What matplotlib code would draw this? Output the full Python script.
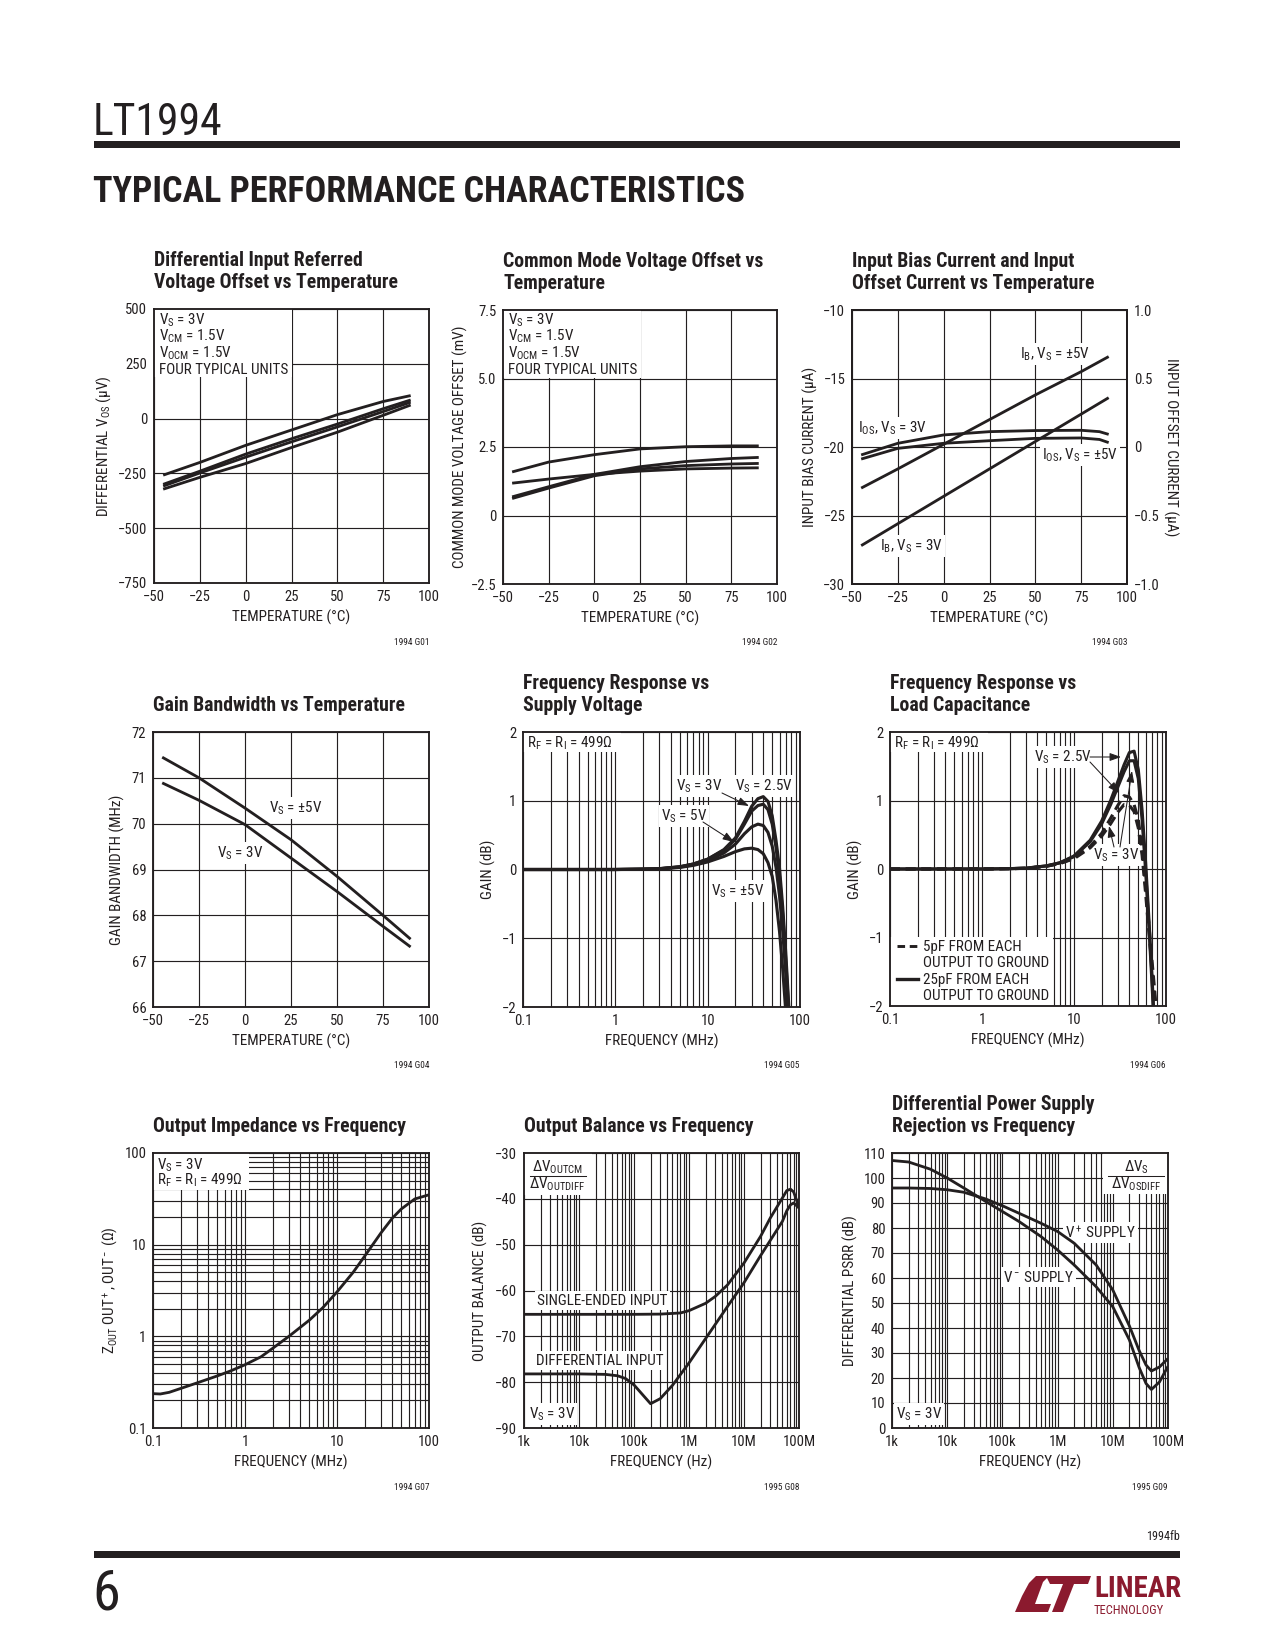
import matplotlib
matplotlib.use('Agg')
import matplotlib.pyplot as plt
from matplotlib import font_manager as fm
from matplotlib.font_manager import FontProperties
from matplotlib.textpath import TextPath
from matplotlib.patches import Rectangle, Polygon
from matplotlib.lines import Line2D
from matplotlib.ticker import LogLocator, NullFormatter

# ---------------------------------------------------------------- data
# G01 differential input referred offset vs temperature (uV)
temp_g01 = [-45, -25, 0, 25, 50, 75, 90]
vos_unit1 = [-258, -200, -122, -52, 18, 78, 105]
vos_unit2 = [-300, -240, -162, -92, -25, 45, 85]
vos_unit3 = [-308, -248, -176, -106, -38, 32, 75]
vos_unit4 = [-322, -268, -205, -132, -62, 15, 62]

# G02 common mode offset vs temperature (mV)
temp_g02 = [-45, -25, 0, 25, 50, 75, 90]
vcm_unit1 = [1.59, 1.95, 2.22, 2.43, 2.51, 2.54, 2.54]
vcm_unit2 = [1.18, 1.33, 1.50, 1.62, 1.70, 1.73, 1.74]
vcm_unit3 = [0.68, 1.05, 1.50, 1.78, 1.97, 2.08, 2.12]
vcm_unit4 = [0.62, 1.00, 1.45, 1.70, 1.82, 1.88, 1.90]

# G03 input bias / offset current vs temperature (uA)
temp_g03 = [-45, -25, 0, 25, 50, 75, 90]
ib_5v = [-23.0, -21.6, -19.8, -18.0, -16.2, -14.5, -13.4]
ib_3v = [-27.2, -25.6, -23.6, -21.6, -19.6, -17.6, -16.4]
temp_ios = [-45, -25, 0, 25, 50, 75, 85, 90]
ios_3v = [-0.058, 0.027, 0.088, 0.112, 0.120, 0.122, 0.112, 0.092]
ios_5v = [-0.088, -0.010, 0.027, 0.046, 0.063, 0.066, 0.055, 0.032]

# G04 gain bandwidth vs temperature (MHz)
temp_g04 = [-45, -25, 0, 25, 50, 75, 90]
gbw_pm5v = [71.45, 71.00, 70.34, 69.65, 68.85, 68.00, 67.48]
gbw_3v = [70.89, 70.51, 69.98, 69.25, 68.52, 67.76, 67.31]

# G05 frequency response vs supply voltage (MHz, dB)
freq_g05 = [0.1, 1, 2, 3, 5, 7, 10, 15, 20, 25, 30, 35, 40, 45, 50, 55, 60, 65, 70, 75, 80]
gain_2v5 = [0, 0, 0.005, 0.012, 0.04, 0.08, 0.15, 0.29, 0.46, 0.70, 0.92, 1.03, 1.06, 0.99, 0.78, 0.42, 0.02, -0.55, -1.2, -1.9, -2.6]
gain_3v = [0, 0, 0.005, 0.012, 0.04, 0.08, 0.15, 0.28, 0.44, 0.66, 0.85, 0.93, 0.95, 0.87, 0.66, 0.32, -0.10, -0.65, -1.3, -2.0, -2.7]
gain_5v = [0, 0, 0.005, 0.010, 0.035, 0.07, 0.13, 0.24, 0.37, 0.52, 0.62, 0.66, 0.64, 0.54, 0.34, 0.03, -0.38, -0.9, -1.5, -2.15, -2.8]
gain_pm5v = [0, 0, 0.003, 0.008, 0.03, 0.06, 0.11, 0.19, 0.26, 0.30, 0.31, 0.29, 0.23, 0.10, -0.10, -0.45, -0.9, -1.45, -2.05, -2.65, -3.3]

# G06 frequency response vs load capacitance (MHz, dB)
freq_g06 = [0.1, 1, 2, 3, 5, 7, 10, 15, 20, 25, 30, 35, 40, 45, 50, 55, 60, 65, 70, 75, 80, 85]
c25_2v5 = [0, 0, 0.005, 0.012, 0.045, 0.09, 0.19, 0.42, 0.70, 1.00, 1.28, 1.52, 1.70, 1.72, 1.45, 0.85, 0.10, -0.70, -1.50, -2.30, -3.10, -3.8]
c25_3v = [0, 0, 0.005, 0.012, 0.045, 0.09, 0.18, 0.40, 0.66, 0.94, 1.20, 1.42, 1.58, 1.58, 1.32, 0.72, -0.02, -0.80, -1.60, -2.40, -3.20, -3.9]
c5_2v5 = [0, 0, 0.005, 0.010, 0.04, 0.08, 0.16, 0.33, 0.52, 0.74, 0.93, 1.07, 1.05, 0.94, 0.72, 0.30, -0.25, -0.80, -1.30, -1.75, -2.20, -2.70]
c5_3v = [0, 0, 0.005, 0.010, 0.04, 0.08, 0.15, 0.31, 0.48, 0.66, 0.83, 0.94, 0.93, 0.84, 0.60, 0.20, -0.35, -0.90, -1.40, -1.85, -2.30, -2.80]

# G07 output impedance vs frequency (MHz, ohm)
freq_g07 = [0.1, 0.12, 0.15, 0.2, 0.3, 0.5, 0.7, 1, 1.5, 2, 3, 5, 7, 10, 15, 20, 30, 40, 50, 70, 100]
zout = [0.237, 0.235, 0.245, 0.27, 0.31, 0.37, 0.42, 0.49, 0.60, 0.74, 1.0, 1.5, 2.05, 3.05, 5.0, 7.5, 13.4, 19.5, 24.5, 31.5, 35.0]

# G08 output balance vs frequency (Hz, dB)
freq_g08_se = [1e3, 1e4, 1e5, 3e5, 5e5, 7e5, 1e6, 2e6, 3e6, 5e6, 1e7, 2e7, 3e7, 5e7, 6e7, 7e7, 8e7, 1e8]
bal_single = [-65.2, -65.2, -65.2, -65.15, -65.0, -64.9, -64.4, -62.8, -61.3, -58.8, -54.0, -48.2, -44.2, -39.8, -38.2, -37.9, -38.5, -41.8]
freq_g08_diff = [1e3, 1e4, 3e4, 5e4, 7e4, 1e5, 1.5e5, 2e5, 3e5, 5e5, 1e6, 2e6, 5e6, 1e7, 2e7, 5e7, 6e7, 7e7, 8e7, 1e8]
bal_diff = [-78.2, -78.2, -78.3, -78.6, -79.2, -80.6, -83.0, -84.7, -83.6, -80.7, -75.8, -70.5, -63.5, -58.3, -52.4, -44.9, -42.6, -41.3, -40.9, -42.0]

# G09 differential PSRR vs frequency (Hz, dB)
freq_g09 = [1e3, 2e3, 5e3, 1e4, 2e4, 5e4, 1e5, 2e5, 5e5, 1e6, 2e6, 5e6, 1e7, 2e7, 3e7, 4e7, 5e7, 7e7, 1e8]
psrr_vplus = [96, 96, 95.8, 95.3, 94.3, 91.6, 88.9, 85.9, 81.9, 78.6, 73.9, 65.2, 55.2, 40.8, 31.0, 25.2, 22.8, 24.4, 27.8]
psrr_vminus = [107, 106.4, 103.5, 100, 96, 90.6, 86.6, 82.6, 76.6, 71.2, 65.2, 56.5, 48.5, 35.2, 24.2, 17.8, 15.4, 18.4, 24.7]

temp_ticks = [-50, -25, 0, 25, 50, 75, 100]
mhz_ticks = [0.1, 1, 10, 100]
mhz_labels = ['0.1', '1', '10', '100']
hz_ticks = [1e3, 1e4, 1e5, 1e6, 1e7, 1e8]
hz_labels = ['1k', '10k', '100k', '1M', '10M', '100M']

# ---------------------------------------------------------------- font choice
by_name = {}
for _f in fm.fontManager.ttflist:
    by_name.setdefault(_f.name, []).append(_f)

FONT, STRETCH = None, 'normal'
for _p in ['Liberation Sans Narrow', 'Roboto Condensed', 'Noto Sans Condensed',
           'Open Sans Condensed', 'DejaVu Sans Condensed', 'Arial Narrow', 'Nimbus Sans Narrow']:
    if _p in by_name:
        FONT = _p
        break
if FONT is None:
    for _fam in ['Roboto', 'Noto Sans', 'Open Sans', 'DejaVu Sans', 'Liberation Sans']:
        if any(_e.stretch in ('condensed', 'semi-condensed') for _e in by_name.get(_fam, [])):
            FONT, STRETCH = _fam, 'condensed'
            break
if FONT is None:
    for _n in sorted(by_name):
        if ('Condensed' in _n or 'Narrow' in _n) and 'Mono' not in _n and 'Serif' not in _n \
                and 'Extra' not in _n and 'Ultra' not in _n and 'CJK' not in _n:
            FONT = _n
            break
if FONT is None:
    FONT = 'Liberation Sans' if 'Liberation Sans' in by_name else 'DejaVu Sans'

plt.rcParams['font.family'] = [FONT, 'DejaVu Sans']
plt.rcParams['font.stretch'] = STRETCH
plt.rcParams['mathtext.fontset'] = 'custom'
plt.rcParams['mathtext.rm'] = f'{FONT}:stretch={STRETCH}'
plt.rcParams['mathtext.it'] = f'{FONT}:italic:stretch={STRETCH}'
plt.rcParams['mathtext.bf'] = f'{FONT}:bold:stretch={STRETCH}'
plt.rcParams['mathtext.default'] = 'rm'


def fit_size(sample, target_px, cap, weight='normal'):
    """font size (pt) that makes `sample` about target_px wide at 150 dpi"""
    prop = FontProperties(family=FONT, stretch=STRETCH, weight=weight, size=10)
    w = TextPath((0, 0), sample, size=10, prop=prop).get_extents().width
    if w <= 0:
        return cap
    return min(cap, 10 * (target_px * 72 / 150) / w)


SZ_TITLE = fit_size('Voltage Offset vs Temperature', 243, 10.5, 'bold')
SZ_ANN = fit_size('FOUR TYPICAL UNITS', 128, 7.6)
SZ_LAB = fit_size('TEMPERATURE (°C)', 117, 7.6)
SZ_TICK = SZ_ANN * 0.97
SZ_HEAD = fit_size('TYPICAL PERFORMANCE CHARACTERISTICS', 651, 19, 'bold')
SZ_LT = fit_size('LT1994', 125, 22)
SZ_PAGE = fit_size('6', 32, 27)
SZ_LIN = fit_size('LINEAR', 86, 14, 'bold')
SZ_TECH = fit_size('TECHNOLOGY', 86, 6.0)
SZ_CODE = SZ_ANN * 0.62

W, H = 1275, 1650
INK = '#231f20'
RED = '#8b1a2e'
LW = 1.35

fig = plt.figure(figsize=(W / 150, H / 150), dpi=150)


def fx(x):
    return x / W


def fy(y):
    return 1 - y / H


def ftext(x, y, s, size=6.3, ha='left', va='center', color=INK, **kw):
    fig.text(fx(x), fy(y), s, fontsize=size, ha=ha, va=va, color=color, **kw)


def make_ax(box):
    l, t, r, b = box
    ax = fig.add_axes([fx(l), fy(b), (r - l) / W, (b - t) / H])
    ax.set_axisbelow(True)
    for s in ax.spines.values():
        s.set_linewidth(0.9)
        s.set_color(INK)
        s.set_zorder(4)
    ax.tick_params(which='both', length=0, labelsize=SZ_TICK, pad=3.2, colors=INK)
    ax.grid(True, which='both', color=INK, lw=0.55)
    return ax


def to_ax(box, x, y):
    l, t, r, b = box
    return (x - l) / (r - l), (b - y) / (b - t)


def atext(ax, box, x, y, s, ha='left', bg=True, size=None):
    px, py = to_ax(box, x, y + 4.6)
    kw = {}
    if bg:
        kw['bbox'] = dict(fc='white', ec='none', pad=1.0)
    ax.text(px, py, s, transform=ax.transAxes, ha=ha, va='baseline',
            fontsize=size or SZ_ANN, color=INK, zorder=1.5, **kw)


def cover(ax, box, x0, y0, x1, y1):
    a0 = to_ax(box, x0, y1)
    a1 = to_ax(box, x1, y0)
    ax.add_patch(Rectangle(a0, a1[0] - a0[0], a1[1] - a0[1], transform=ax.transAxes,
                           fc='white', ec='none', zorder=1))


def hline(ax, box, x0, x1, y, **kw):
    p0 = to_ax(box, x0, y)
    p1 = to_ax(box, x1, y)
    ax.add_line(Line2D([p0[0], p1[0]], [p0[1], p1[1]], transform=ax.transAxes,
                       color=INK, zorder=3, **kw))


def arrow(ax, box, x0, y0, x1, y1):
    ax.annotate('', xy=to_ax(box, x1, y1), xytext=to_ax(box, x0, y0),
                xycoords='axes fraction', textcoords='axes fraction',
                arrowprops=dict(arrowstyle='-|>,head_length=0.45,head_width=0.16',
                                color=INK, lw=0.5, shrinkA=0, shrinkB=0), zorder=3)


def decorate(box, titles, xlabel, ylabel, ylab_x, code):
    l, t, r, b = box
    n = len(titles)
    for i, line in enumerate(titles):
        ftext(l, t - 21 - 22 * (n - 1 - i), line, size=SZ_TITLE, va='baseline', weight='bold')
    ftext((l + r) / 2, b + 34, xlabel, size=SZ_LAB, ha='center')
    ftext(ylab_x, (t + b) / 2, ylabel, size=SZ_LAB, ha='center', rotation=90)
    ftext(r, b + 59, code, size=SZ_CODE, ha='right')


def logx(ax, ticks, labels):
    ax.set_xscale('log')
    ax.set_xticks(ticks)
    ax.set_xticklabels(labels)
    ax.xaxis.set_minor_locator(LogLocator(base=10, subs=range(2, 10)))
    ax.xaxis.set_minor_formatter(NullFormatter())


def plot(ax, x, y, **kw):
    kw.setdefault('lw', LW)
    ax.plot(x, y, color=INK, zorder=2, solid_capstyle='butt', **kw)


COND = [r'V$_S$ = 3V', r'V$_{CM}$ = 1.5V', r'V$_{OCM}$ = 1.5V', 'FOUR TYPICAL UNITS']

# ---------------------------------------------------------------- G01
B1 = (154, 309, 429, 583)
ax = make_ax(B1)
for v in (vos_unit1, vos_unit2, vos_unit3, vos_unit4):
    plot(ax, temp_g01, v)
ax.set_xlim(-50, 100)
ax.set_ylim(-750, 500)
ax.set_xticks(temp_ticks)
ax.set_yticks([-750, -500, -250, 0, 250, 500])
cover(ax, B1, 154, 309, 292, 377)
for i, s in enumerate(COND):
    atext(ax, B1, 159, 320 + 16.3 * i, s, bg=False)
decorate(B1, ['Differential Input Referred', 'Voltage Offset vs Temperature'],
         'TEMPERATURE (°C)', r'DIFFERENTIAL V$_{OS}$ (µV)', 104, '1994 G01')

# ---------------------------------------------------------------- G02
B2 = (503, 310, 777, 584)
ax = make_ax(B2)
for v in (vcm_unit1, vcm_unit2, vcm_unit3, vcm_unit4):
    plot(ax, temp_g02, v)
ax.set_xlim(-50, 100)
ax.set_ylim(-2.5, 7.5)
ax.set_xticks(temp_ticks)
ax.set_yticks([-2.5, 0, 2.5, 5.0, 7.5])
ax.set_yticklabels(['\u22122.5', '0', '2.5', '5.0', '7.5'])
cover(ax, B2, 503, 310, 641, 378)
for i, s in enumerate(COND):
    atext(ax, B2, 508, 320 + 16.3 * i, s, bg=False)
decorate(B2, ['Common Mode Voltage Offset vs', 'Temperature'],
         'TEMPERATURE (°C)', 'COMMON MODE VOLTAGE OFFSET (mV)', 460, '1994 G02')

# ---------------------------------------------------------------- G03
B3 = (852, 310, 1127, 584)
ax = make_ax(B3)
plot(ax, temp_g03, ib_5v)
plot(ax, temp_g03, ib_3v)
ax.set_xlim(-50, 100)
ax.set_ylim(-30, -10)
ax.set_xticks(temp_ticks)
ax.set_yticks([-30, -25, -20, -15, -10])
ax2 = ax.twinx()
ax2.set_ylim(-1.0, 1.0)
ax2.set_yticks([-1.0, -0.5, 0, 0.5, 1.0])
ax2.set_yticklabels(['\u22121.0', '\u22120.5', '0', '0.5', '1.0'])
ax2.tick_params(length=0, labelsize=SZ_TICK, pad=3.2, colors=INK)
for s in ax2.spines.values():
    s.set_linewidth(0.9)
    s.set_color(INK)
plot(ax2, temp_ios, ios_3v)
plot(ax2, temp_ios, ios_5v)
atext(ax, B3, 1020, 354, r'I$_B$, V$_S$ = ±5V')
atext(ax, B3, 858, 428, r'I$_{OS}$, V$_S$ = 3V')
atext(ax, B3, 1042, 455, r'I$_{OS}$, V$_S$ = ±5V')
atext(ax, B3, 880, 546, r'I$_B$, V$_S$ = 3V')
decorate(B3, ['Input Bias Current and Input', 'Offset Current vs Temperature'],
         'TEMPERATURE (°C)', 'INPUT BIAS CURRENT (µA)', 810, '1994 G03')
ftext(1171, 447, 'INPUT OFFSET CURRENT (µA)', size=SZ_LAB, ha='center', rotation=-90)

# ---------------------------------------------------------------- G04
B4 = (153, 732, 429, 1007)
ax = make_ax(B4)
plot(ax, temp_g04, gbw_pm5v)
plot(ax, temp_g04, gbw_3v)
ax.set_xlim(-50, 100)
ax.set_ylim(66, 72)
ax.set_xticks(temp_ticks)
ax.set_yticks([66, 67, 68, 69, 70, 71, 72])
atext(ax, B4, 269, 808, r'V$_S$ = ±5V')
atext(ax, B4, 217, 853, r'V$_S$ = 3V')
decorate(B4, ['Gain Bandwidth vs Temperature'],
         'TEMPERATURE (°C)', 'GAIN BANDWIDTH (MHz)', 117, '1994 G04')

# ---------------------------------------------------------------- G05
B5 = (523, 732, 800, 1007)
ax = make_ax(B5)
for g in (gain_2v5, gain_3v, gain_5v, gain_pm5v):
    plot(ax, freq_g05, g, lw=1.5)
logx(ax, mhz_ticks, mhz_labels)
ax.set_xlim(0.1, 100)
ax.set_ylim(-2, 2)
ax.set_yticks([-2, -1, 0, 1, 2])
cover(ax, B5, 523, 732, 621, 752)
atext(ax, B5, 527, 743, r'R$_F$ = R$_I$ = 499Ω', bg=False)
atext(ax, B5, 676, 786, r'V$_S$ = 3V')
atext(ax, B5, 735, 786, r'V$_S$ = 2.5V')
atext(ax, B5, 661, 816, r'V$_S$ = 5V')
atext(ax, B5, 711, 891, r'V$_S$ = ±5V')
arrow(ax, B5, 722, 793, 749, 806)
arrow(ax, B5, 703, 822, 734, 842)
decorate(B5, ['Frequency Response vs', 'Supply Voltage'],
         'FREQUENCY (MHz)', 'GAIN (dB)', 488, '1994 G05')

# ---------------------------------------------------------------- G06
B6 = (890, 732, 1166, 1006)
ax = make_ax(B6)
plot(ax, freq_g06, c25_2v5, lw=1.5)
plot(ax, freq_g06, c25_3v, lw=1.5)
plot(ax, freq_g06, c5_2v5, lw=1.5, ls=(0, (3.2, 1.8)))
plot(ax, freq_g06, c5_3v, lw=1.5, ls=(0, (3.2, 1.8)))
logx(ax, mhz_ticks, mhz_labels)
ax.set_xlim(0.1, 100)
ax.set_ylim(-2, 2)
ax.set_yticks([-2, -1, 0, 1, 2])
cover(ax, B6, 890, 732, 988, 752)
atext(ax, B6, 894, 743, r'R$_F$ = R$_I$ = 499Ω', bg=False)
atext(ax, B6, 1034, 757, r'V$_S$ = 2.5V')
atext(ax, B6, 1093, 855, r'V$_S$ = 3V')
arrow(ax, B6, 1090, 757, 1121, 757)
arrow(ax, B6, 1090, 762, 1119, 793)
arrow(ax, B6, 1114, 847, 1109, 826)
arrow(ax, B6, 1120, 847, 1132, 771)
cover(ax, B6, 890, 937, 1053, 1006)
hline(ax, B6, 897, 918, 946, lw=1.4, ls=(0, (2.6, 1.6)))
hline(ax, B6, 897, 918, 979, lw=1.6)
atext(ax, B6, 923, 946, '5pF FROM EACH', bg=False)
atext(ax, B6, 923, 962, 'OUTPUT TO GROUND', bg=False)
atext(ax, B6, 923, 979, '25pF FROM EACH', bg=False)
atext(ax, B6, 923, 995, 'OUTPUT TO GROUND', bg=False)
decorate(B6, ['Frequency Response vs', 'Load Capacitance'],
         'FREQUENCY (MHz)', 'GAIN (dB)', 855, '1994 G06')

# ---------------------------------------------------------------- G07
B7 = (153, 1153, 429, 1428)
ax = make_ax(B7)
plot(ax, freq_g07, zout)
logx(ax, mhz_ticks, mhz_labels)
ax.set_yscale('log')
ax.set_yticks([0.1, 1, 10, 100])
ax.set_yticklabels(['0.1', '1', '10', '100'])
ax.yaxis.set_minor_locator(LogLocator(base=10, subs=range(2, 10)))
ax.yaxis.set_minor_formatter(NullFormatter())
ax.set_xlim(0.1, 100)
ax.set_ylim(0.1, 100)
cover(ax, B7, 153, 1153, 249, 1190)
atext(ax, B7, 157, 1165, r'V$_S$ = 3V', bg=False)
atext(ax, B7, 157, 1180, r'R$_F$ = R$_I$ = 499Ω', bg=False)
decorate(B7, ['Output Impedance vs Frequency'],
         'FREQUENCY (MHz)', r'Z$_{OUT}$ OUT$^+$, OUT$^-$ (Ω)', 110, '1994 G07')

# ---------------------------------------------------------------- G08
B8 = (524, 1153, 799, 1428)
ax = make_ax(B8)
plot(ax, freq_g08_se, bal_single)
plot(ax, freq_g08_diff, bal_diff)
logx(ax, hz_ticks, hz_labels)
ax.set_xlim(1e3, 1e8)
ax.set_ylim(-90, -30)
ax.set_yticks([-90, -80, -70, -60, -50, -40, -30])
cover(ax, B8, 524, 1153, 592, 1195)
atext(ax, B8, 557.5, 1167, r'ΔV$_{OUTCM}$', ha='center', bg=False)
hline(ax, B8, 530, 586, 1175.5, lw=0.5)
atext(ax, B8, 557.5, 1184, r'ΔV$_{OUTDIFF}$', ha='center', bg=False)
atext(ax, B8, 537, 1300, 'SINGLE-ENDED INPUT')
atext(ax, B8, 536, 1360, 'DIFFERENTIAL INPUT')
atext(ax, B8, 529, 1414, r'V$_S$ = 3V')
decorate(B8, ['Output Balance vs Frequency'],
         'FREQUENCY (Hz)', 'OUTPUT BALANCE (dB)', 480, '1995 G08')

# ---------------------------------------------------------------- G09
B9 = (892, 1153, 1168, 1428)
ax = make_ax(B9)
plot(ax, freq_g09, psrr_vplus)
plot(ax, freq_g09, psrr_vminus)
logx(ax, hz_ticks, hz_labels)
ax.set_xlim(1e3, 1e8)
ax.set_ylim(0, 110)
ax.set_yticks(list(range(0, 111, 10)))
cover(ax, B9, 1103, 1153, 1168, 1194)
atext(ax, B9, 1136, 1167, r'ΔV$_S$', ha='center', bg=False)
hline(ax, B9, 1108, 1164, 1175.5, lw=0.5)
atext(ax, B9, 1136, 1184, r'ΔV$_{OSDIFF}$', ha='center', bg=False)
atext(ax, B9, 1065, 1233, r'V$^+$ SUPPLY')
atext(ax, B9, 1003, 1277, r'V$^-$ SUPPLY')
atext(ax, B9, 896, 1414, r'V$_S$ = 3V')
decorate(B9, ['Differential Power Supply', 'Rejection vs Frequency'],
         'FREQUENCY (Hz)', 'DIFFERENTIAL PSRR (dB)', 850, '1995 G09')

# ---------------------------------------------------------------- page header / footer
ftext(93, 135, 'LT1994', size=SZ_LT, va='baseline')
fig.add_artist(Rectangle((fx(94), fy(147.5)), (1180 - 94) / W, 6.5 / H,
                         transform=fig.transFigure, fc=INK, ec='none'))
ftext(93, 202, 'TYPICAL PERFORMANCE CHARACTERISTICS', size=SZ_HEAD, va='baseline', weight='bold')
ftext(1180, 1536, '1994fb', size=SZ_ANN * 0.8, ha='right')
fig.add_artist(Rectangle((fx(94), fy(1557.5)), (1180 - 94) / W, 6.5 / H,
                         transform=fig.transFigure, fc=INK, ec='none'))
ftext(92, 1610, '6', size=SZ_PAGE, va='baseline')

logo_L = [(1015, 1612), (1022, 1596), (1029, 1583), (1036, 1576), (1049, 1576), (1043, 1582),
          (1035, 1604), (1051, 1604), (1048, 1612)]
logo_T = [(1046, 1576), (1091, 1576), (1088, 1584), (1074, 1584), (1063, 1612), (1052, 1612),
          (1063, 1584), (1050, 1584)]
for pts in (logo_L, logo_T):
    fig.add_artist(Polygon([(fx(x), fy(y)) for x, y in pts], closed=True,
                           transform=fig.transFigure, fc=RED, ec='none'))
ftext(1094, 1597, 'LINEAR', size=SZ_LIN, va='baseline', weight='bold', color=RED)
ftext(1094, 1614, 'TECHNOLOGY', size=SZ_TECH, va='baseline', color=RED)

fig.savefig('out.png', dpi=150, facecolor='white')
